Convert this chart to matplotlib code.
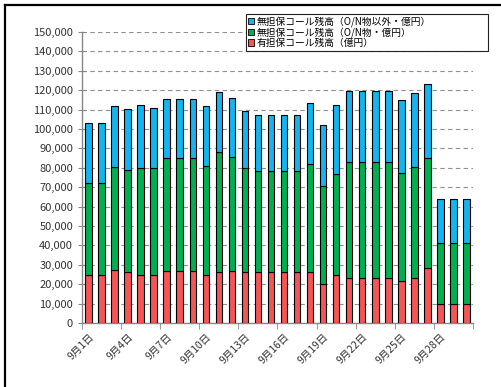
import numpy as np
import matplotlib
matplotlib.use("Agg")
import matplotlib.pyplot as plt
from matplotlib.lines import Line2D
from matplotlib.patches import Patch, Rectangle
from matplotlib.ticker import FuncFormatter

plt.rcParams["font.family"] = ["Noto Sans CJK JP", "DejaVu Sans"]

# 9月の日次残高（億円）
days = [f"9月{d}日" for d in range(1, 31)]
secured = [24800, 24800, 27400, 26200, 24800, 24800, 26900, 26900, 26900, 24800,
           26400, 26900, 26200, 26200, 26200, 26200, 26200, 26200, 20200, 24800,
           23100, 23100, 23100, 23100, 21600, 23100, 28400, 9800, 9800, 9800]
unsecured_on = [47600, 47600, 53100, 52900, 55000, 55000, 58300, 58300, 58300, 56100,
                61700, 58800, 53600, 52200, 52200, 52200, 52200, 55900, 50500, 51900,
                59700, 59700, 59700, 59700, 55800, 57400, 56800, 31400, 31400, 31400]
unsecured_other = [30900, 30900, 31100, 31400, 32600, 31200, 30100, 30100, 30100, 30700,
                   30900, 30200, 29500, 29000, 29000, 29000, 29000, 31300, 31200, 35700,
                   36900, 36900, 36900, 36700, 37300, 37800, 37900, 22900, 22900, 22900]

labels = ["無担保コール残高（O/N物以外・億円）",
          "無担保コール残高（O/N物・億円）",
          "有担保コール残高（億円）"]
colors = ["#14B4F0", "#00B050", "#F55555"]

fig = plt.figure(figsize=(5.02, 3.87), dpi=100)
ax = fig.add_axes([82 / 502, 1 - 323 / 387, 391 / 502, 291 / 387])

x = np.arange(len(days))
red = np.array(secured)
green = np.array(unsecured_on)
blue = np.array(unsecured_other)

bw = 0.5
ax.bar(x, red, width=bw, color=colors[2], edgecolor="black", linewidth=0.8, zorder=3)
ax.bar(x, green, bottom=red, width=bw, color=colors[1], edgecolor="black", linewidth=0.8, zorder=3)
ax.bar(x, blue, bottom=red + green, width=bw, color=colors[0], edgecolor="black", linewidth=0.8, zorder=3)

ax.set_xlim(-0.5, len(days) - 0.5)
ax.set_ylim(0, 150000)
ax.set_yticks(np.arange(0, 150001, 10000))
ax.yaxis.set_major_formatter(FuncFormatter(lambda v, p: f"{int(v):,}"))
ax.grid(axis="y", linestyle=(0, (4, 3)), color="#909090", linewidth=0.8, zorder=0)

ax.set_xticks(x[::3])
ax.set_xticklabels(days[::3], rotation=45, ha="right", va="top", rotation_mode="anchor")
ax.set_xticks(np.arange(-0.5, len(days), 3), minor=True)
ax.tick_params(axis="x", which="major", length=0, pad=6, labelsize=7.5, labelcolor="#333333")
ax.tick_params(axis="x", which="minor", length=4, direction="out", color="#888888")
ax.tick_params(axis="y", length=6, direction="inout", color="#888888", labelsize=8, labelcolor="#333333")

for s in ["top", "right"]:
    ax.spines[s].set_visible(False)
for s in ["left", "bottom"]:
    ax.spines[s].set_color("#888888")
    ax.spines[s].set_linewidth(1.0)

# 凡例（枠は別に描く）
fig.add_artist(Rectangle((246 / 502, 1 - 51 / 387), 242 / 502, 37 / 387, transform=fig.transFigure,
                         facecolor="white", edgecolor="#222222", linewidth=0.8, zorder=4))
handles = [Patch(facecolor=c, edgecolor="black", linewidth=0.6) for c in colors]
leg = fig.legend(handles, labels, loc="upper left", bbox_to_anchor=(247 / 502, 1 - 15 / 387),
                 fontsize=7.0, frameon=False,
                 handlelength=0.6, handleheight=0.6, handletextpad=0.25,
                 labelspacing=0.0, borderpad=0.1, borderaxespad=0)
leg.set_zorder(5)

# 外枠（左と上のみ見える）
fig.add_artist(Line2D([4.5 / 502, 4.5 / 502], [0, 1 - 4.5 / 387], transform=fig.transFigure,
                      color="black", linewidth=1.6))
fig.add_artist(Line2D([4.5 / 502, 1], [1 - 4.5 / 387, 1 - 4.5 / 387], transform=fig.transFigure,
                      color="black", linewidth=1.6))

fig.savefig("out.png", dpi=100)
